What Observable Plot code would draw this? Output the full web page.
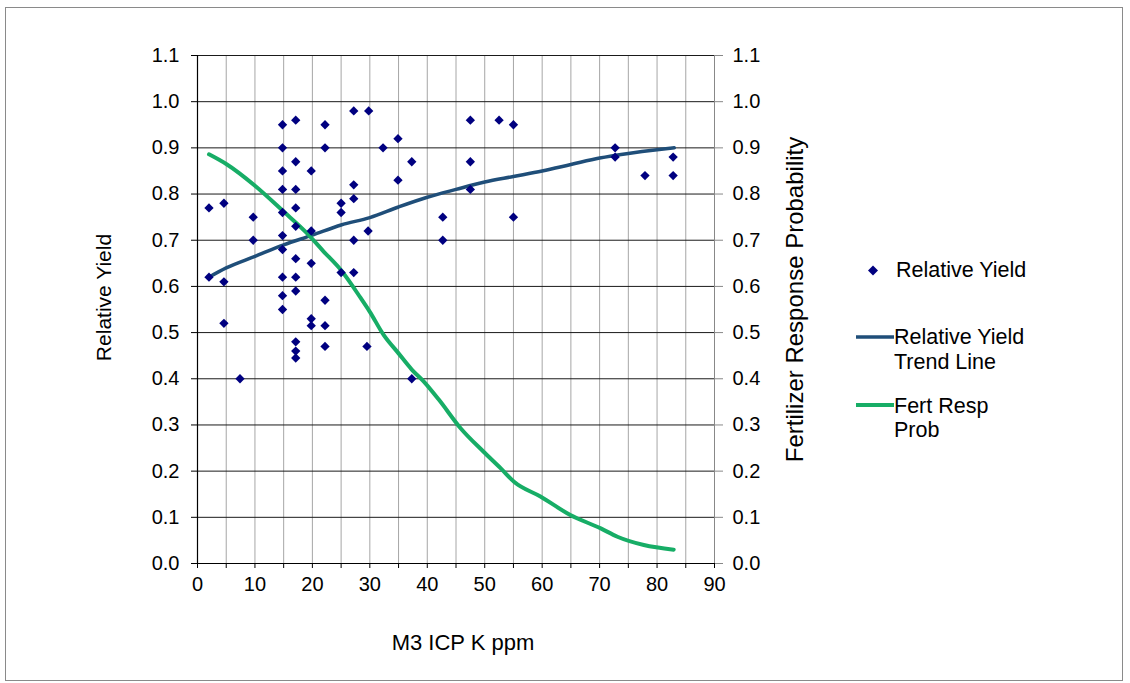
<!DOCTYPE html>
<html><head><meta charset="utf-8">
<script src="https://cdn.jsdelivr.net/npm/d3@7"></script>
<script src="https://cdn.jsdelivr.net/npm/@observablehq/plot@0.6"></script>
<style>
body{margin:0;background:#fff;font-family:"Liberation Sans",Arial,sans-serif;}
#wrap{position:relative;width:1130px;height:683px;overflow:hidden;background:#fff;}
#chart{position:absolute;left:0;top:0;}
#legend{position:absolute;left:0;top:0;}
#frame{position:absolute;left:5px;top:7px;width:1118px;height:674px;border:1.5px solid #8a8a8a;box-sizing:border-box;pointer-events:none;}
</style></head><body>
<div id="wrap"><div id="chart"></div><svg id="legend" width="1130" height="683"></svg><div id="frame"></div></div>
<script>
// Scatter: Relative Yield vs M3 ICP K ppm
const ptX = [2.0, 2.0, 4.6, 4.6, 4.6, 7.4, 9.7, 9.7,
  14.8, 14.8, 14.8, 14.8, 14.8, 14.8, 14.8, 14.8, 14.8, 14.8,
  17.1, 17.1, 17.1, 17.1, 17.1, 17.1, 17.1, 17.1, 17.1, 17.1, 17.1,
  19.8, 19.8, 19.8, 19.8, 19.8,
  22.2, 22.2, 22.2, 22.2, 22.2,
  25.0, 25.0, 25.0,
  27.2, 27.2, 27.2, 27.2, 27.2,
  29.8, 29.7, 29.5,
  32.3, 34.9, 34.9, 37.3, 37.3, 42.7, 42.7,
  47.5, 47.5, 47.5, 52.5, 55.0, 55.0,
  72.7, 72.7, 77.9, 82.8, 82.8];
const ptY = [0.77, 0.62, 0.78, 0.61, 0.52, 0.40, 0.75, 0.70,
  0.95, 0.90, 0.85, 0.81, 0.76, 0.71, 0.68, 0.62, 0.58, 0.55,
  0.96, 0.87, 0.81, 0.77, 0.73, 0.66, 0.62, 0.59, 0.48, 0.46, 0.445,
  0.85, 0.72, 0.65, 0.53, 0.515,
  0.95, 0.90, 0.57, 0.515, 0.47,
  0.78, 0.76, 0.63,
  0.98, 0.82, 0.79, 0.70, 0.63,
  0.98, 0.72, 0.47,
  0.90, 0.92, 0.83, 0.87, 0.40, 0.75, 0.70,
  0.96, 0.87, 0.81, 0.96, 0.95, 0.75,
  0.90, 0.88, 0.84, 0.88, 0.84];
// Relative Yield trend line
const trendX = [2, 5, 10, 15, 20, 25, 30, 35, 40, 45, 50, 55, 60, 65, 70, 75, 80, 83];
const trendY = [0.62, 0.64, 0.665, 0.69, 0.711, 0.733, 0.749, 0.772, 0.793, 0.81, 0.826, 0.838, 0.85, 0.864, 0.878, 0.888, 0.896, 0.90];
// Fertilizer response probability
const probX = [2, 5, 10, 15, 19, 22, 25, 28.4, 30, 32.4, 35, 37.3, 39.4, 42, 45.8, 49.8, 52.8, 55.1, 59.7, 64.9, 70.2, 73.1, 77.7, 82.9];
const probY = [0.886, 0.865, 0.818, 0.762, 0.716, 0.675, 0.635, 0.575, 0.545, 0.495, 0.455, 0.42, 0.394, 0.355, 0.293, 0.242, 0.206, 0.177, 0.145, 0.105, 0.076, 0.058, 0.04, 0.03];
// Ticks and titles
const xTicks = d3.range(0, 91, 5);
const yTicks = d3.range(0, 12).map(i => i / 10);
const xTitle = "M3 ICP K ppm";
const yTitleLeft = "Relative Yield";
const yTitleRight = "Fertilizer Response Probability";

const points = ptX.map((x, i) => ({x, y: ptY[i]}));
const trend = trendX.map((x, i) => ({x, y: trendY[i]}));
const prob = probX.map((x, i) => ({x, y: probY[i]}));

const FONT = "Liberation Sans, Arial, sans-serif";
const plot = Plot.plot({
  width: 1130, height: 683,
  marginLeft: 197, marginRight: 416, marginTop: 55, marginBottom: 120,
  style: {background: "transparent", fontFamily: FONT, fontSize: "20px", color: "#000"},
  x: {domain: [0, 90]},
  y: {domain: [0, 1.1]},
  marks: [
    Plot.gridX(xTicks, {stroke: "#a6a6a6", strokeOpacity: 1}),
    Plot.gridY(yTicks, {stroke: "#1a1a1a", strokeOpacity: 1}),
    Plot.ruleX([0], {stroke: "#000", strokeWidth: 1.2}),
    Plot.ruleX([90], {stroke: "#888"}),
    Plot.ruleY([0], {stroke: "#000", strokeWidth: 1.2}),
    Plot.axisX(xTicks, {tickSize: 5, tickPadding: 8, fontSize: 20,
      tickFormat: d => d % 10 === 0 ? String(d) : "", label: null}),
    Plot.axisY(yTicks, {anchor: "left", tickSize: 6, tickPadding: 12, fontSize: 20,
      tickFormat: d3.format(".1f"), label: null}),
    Plot.axisY(yTicks, {anchor: "right", tickSize: 8, tickPadding: 10, fontSize: 20,
      stroke: "#888", fill: "#000", tickFormat: d3.format(".1f"), label: null}),
    Plot.text([xTitle], {frameAnchor: "bottom", dx: 7, dy: 79, lineAnchor: "middle", textAnchor: "middle", fontSize: 22}),
    Plot.text([yTitleLeft], {frameAnchor: "left", dx: -93, dy: -12, rotate: -90, lineAnchor: "middle", textAnchor: "middle", fontSize: 21}),
    Plot.text([yTitleRight], {frameAnchor: "right", dx: 81, dy: -10, rotate: -90, lineAnchor: "middle", textAnchor: "middle", fontSize: 24, letterSpacing: "0.8px"}),
    Plot.line(trend, {x: "x", y: "y", stroke: "#1f4e79", strokeWidth: 3.5, curve: "monotone-x"}),
    Plot.line(prob, {x: "x", y: "y", stroke: "#17ad66", strokeWidth: 4, curve: "monotone-x"}),
    Plot.dot(points, {x: "x", y: "y", symbol: "diamond2", r: 4.2, fill: "#000080", stroke: "none"})
  ]
});
document.getElementById("chart").appendChild(plot);

// Legend
const lg = d3.select("#legend").style("font-family", FONT).style("font-size", "21.5px");
const dsz = 5;
lg.append("path").attr("d", `M873,${270.5 - dsz}L${873 + dsz},270.5L873,${270.5 + dsz}L${873 - dsz},270.5Z`).attr("fill", "#000080");
lg.append("text").attr("x", 896).attr("y", 277).text("Relative Yield");
lg.append("line").attr("x1", 856).attr("x2", 894).attr("y1", 337).attr("y2", 337).attr("stroke", "#1f4e79").attr("stroke-width", 3.5);
lg.append("text").attr("x", 894).attr("y", 344).text("Relative Yield");
lg.append("text").attr("x", 894).attr("y", 369).text("Trend Line");
lg.append("line").attr("x1", 856).attr("x2", 894).attr("y1", 405).attr("y2", 405).attr("stroke", "#17ad66").attr("stroke-width", 4);
lg.append("text").attr("x", 894).attr("y", 413).text("Fert Resp");
lg.append("text").attr("x", 894).attr("y", 437).text("Prob");
</script>
</body></html>
